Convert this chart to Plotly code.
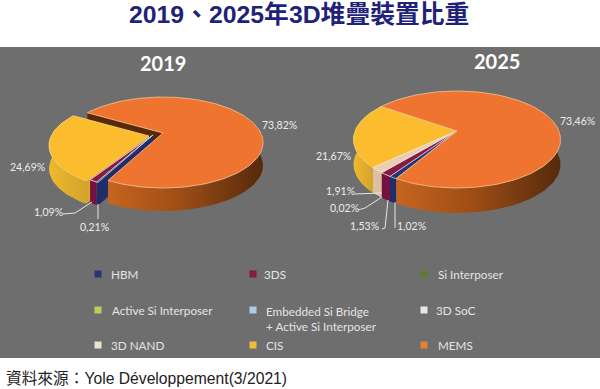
import math
import plotly.graph_objects as go

# ---------- data ----------
title = "2019、2025年3D堆疊裝置比重"
source = "資料來源：Yole Développement(3/2021)"
years = ["2019", "2025"]
categories = ["MEMS", "HBM", "3DS", "3D SoC", "3D NAND", "CIS"]   # clockwise order of slices
share_2019 = [73.82, 0.21, 1.09, 0.0, 0.0, 24.69]
share_2025 = [73.46, 1.02, 1.53, 0.02, 1.91, 21.67]
legend_items = ["HBM", "3DS", "Si Interposer",
                "Active Si Interposer", "Embedded Si Bridge<br>+ Active Si Interposer", "3D SoC",
                "3D NAND", "CIS", "MEMS"]

# ---------- style / layout ----------
W, H = 600, 389
GREY = "#6e6e6e"
TOP = {"MEMS": "#ee7430", "HBM": "#27366f", "3DS": "#861a42", "3D SoC": "#e6e0d6",
       "3D NAND": "#ebcdb2", "CIS": "#fbbc2e"}
WALL = {"MEMS": [[0, "#c5651f"], [0.45, "#a04e15"], [1, "#552a0c"]],
        "HBM": [[0, "#1f2e68"], [1, "#1f2e68"]],
        "3DS": [[0, "#74113f"], [1, "#74113f"]],
        "3D SoC": [[0, "#d8d0c4"], [1, "#d8d0c4"]],
        "3D NAND": [[0, "#dcc0a2"], [1, "#dcc0a2"]],
        "CIS": [[0, "#efb92e"], [1, "#d2a42a"]]}
EDGE = {"MEMS": "#f6c49c", "HBM": "#c8c8e0", "3DS": "#f0e0e0", "3D SoC": "#f0f0f0",
        "3D NAND": "#f5e6d6", "CIS": "#f9d77e"}
LEGEND_SWATCH = ["#27366f", "#861a42", "#5f7a2c", "#b9cf5a", "#a9cfe0", "#e6e6e6",
                 "#ece2d2", "#f2bb3c", "#e8802f"]
LEGEND_X = [98, 253, 424]
LEGEND_TX = [[109, 262, 436], [110, 264, 434], [109, 264, 436]]
LEGEND_Y = [274, 310, 345]

PIES = {
    "2019": dict(values=share_2019, ax=163, ay=133, A=97.8, B=43.5, k=0.209, start=-59, depth=23,
                 explode={"CIS": (-14, 3), "3DS": (-10, 2), "HBM": (-10, 2)},
                 labels={"MEMS": (279, 125), "CIS": (27, 167), "3DS": (48, 212), "HBM": (94, 227)},
                 title_xy=(163, 63)),
    "2025": dict(values=share_2025, ax=457, ay=131, A=101.9, B=47, k=0.175, start=-55, depth=25,
                 explode={},
                 labels={"MEMS": (577, 121), "CIS": (333, 156), "3D NAND": (340, 191),
                         "3D SoC": (344, 208), "3DS": (364, 226), "HBM": (411, 226)},
                 title_xy=(497, 61)),
}
LEADERS = [
    [(63, 214), (75, 213), (92, 202)], [(98, 204), (98, 219)],
    [(355, 194), (382, 193)], [(358, 210), (365, 208), (382, 197)],
    [(382, 229), (385, 228), (388, 200)], [(395, 228), (395, 202)],
]

fig = go.Figure()


def proj(p, deg, off=(0, 0), down=0):
    t = math.radians(deg)
    w = 1 + p["k"] * math.cos(t)
    return (p["ax"] + off[0] + p["A"] * math.sin(t) / w,
            p["ay"] + off[1] + down - p["B"] * math.cos(t) / w)


def degs(a, b, step=2.0):
    n = max(2, int(abs(b - a) / step) + 1)
    return [a + (b - a) * i / (n - 1) for i in range(n)]


def poly(points, fill=None, gradient=None, line=None, lw=0, name=None):
    xs = [q[0] for q in points] + [points[0][0]]
    ys = [q[1] for q in points] + [points[0][1]]
    kw = dict(fillcolor=fill) if fill else {}
    if gradient:
        kw = dict(fillgradient=dict(type="horizontal", colorscale=gradient))
    fig.add_trace(go.Scatter(x=xs, y=ys, mode="lines", fill="toself", name=name,
                             line=dict(color=line or "rgba(0,0,0,0)", width=lw),
                             hoverinfo="skip", showlegend=False, **kw))


def draw_pie(p):
    total = sum(p["values"])
    spans, a = {}, p["start"]
    for c, v in zip(categories, p["values"]):
        spans[c] = (a, a + v / total * 360)
        a += v / total * 360
    d = p["depth"]

    def center(off):
        return (p["ax"] + off[0], p["ay"] + off[1])

    def radial(c, deg, col):
        off = p["explode"].get(c, (0, 0))
        c0 = center(off)
        e = proj(p, deg, off)
        poly([c0, e, (e[0], e[1] + d), (c0[0], c0[1] + d)], fill=col, name=c)

    # back radial face of the largest slice, seen where neighbours are pulled out
    radial("MEMS", spans["MEMS"][0], "#5a2a08")
    for c in ["CIS", "3D NAND", "3D SoC", "3DS", "HBM", "MEMS"]:
        a0, a1 = spans[c]
        if a1 - a0 <= 0:
            continue
        off = p["explode"].get(c, (0, 0))
        # radial wall on the clockwise-start side (faces the viewer's lower right)
        if c != "MEMS":
            radial(c, a0, WALL[c][-1][1] if c != "CIS" else "#d9a62c")
        # outer wall: only the near part of the rim
        lo, hi = max(a0, 70), min(a1, 290)
        if hi > lo:
            top = [proj(p, t, off) for t in degs(lo, hi)]
            bot = [proj(p, t, off, d) for t in degs(hi, lo)]
            poly(top + bot, gradient=WALL[c], name=c)
        # top face
        arc = [proj(p, t, off) for t in degs(a0, a1)]
        poly([center(off)] + arc, fill=TOP[c], line=EDGE[c], lw=0.8, name=c)


for y in years:
    draw_pie(PIES[y])

for pts in LEADERS:
    fig.add_trace(go.Scatter(x=[q[0] for q in pts], y=[q[1] for q in pts], mode="lines",
                             line=dict(color="#e6e6e6", width=1), hoverinfo="skip", showlegend=False))

# legend swatches
sx, sy, sc = [], [], []
for i, col in enumerate(LEGEND_SWATCH):
    sx.append(LEGEND_X[i % 3]); sy.append(LEGEND_Y[i // 3]); sc.append(col)
fig.add_trace(go.Scatter(x=sx, y=sy, mode="markers", hoverinfo="skip", showlegend=False,
                         marker=dict(symbol="square", size=7, color=sc, line=dict(width=0))))


def text(x, y, s, size, color, family="Lato", anchor="left", bold=False):
    fig.add_annotation(x=x, y=y, xref="x", yref="y", text=f"<b>{s}</b>" if bold else s, showarrow=False,
                       xanchor=anchor, yanchor="middle", align="left",
                       font=dict(size=size, color=color, family=family))


text(299, 14, title, 24.8, "#1f2378", "'Liberation Sans','Noto Sans CJK TC'", "center", True)
text(4, 378, source, 15.7, "#222222", "'Liberation Sans','Noto Sans CJK TC'")

for y in years:
    p = PIES[y]
    text(p["title_xy"][0], p["title_xy"][1], y, 20, "#ffffff", "Lato", "center", True)
    for c, xy in p["labels"].items():
        v = p["values"][categories.index(c)]
        text(xy[0], xy[1], f"{v:.2f}".replace(".", ",") + "%", 10.5, "#ececec", "Lato", "center")

for i, s in enumerate(legend_items):
    yy = LEGEND_Y[i // 3]
    if "<br>" in s:
        yy += 8
    text(LEGEND_TX[i // 3][i % 3], yy, s, 11.7, "#e4e4e4")

fig.update_layout(
    width=W, height=H, margin=dict(l=0, r=0, t=0, b=0), paper_bgcolor="white", plot_bgcolor="white",
    showlegend=False,
    xaxis=dict(range=[0, W], visible=False, fixedrange=True),
    yaxis=dict(range=[H, 0], visible=False, fixedrange=True),
    shapes=[dict(type="rect", xref="x", yref="y", x0=0, x1=W, y0=47, y1=358, layer="below",
                 fillcolor=GREY, line=dict(width=0))],
)
fig.write_html("out.html", config={"displayModeBar": False},
               post_script="document.body.style.margin='0';document.documentElement.style.overflow='hidden';")
